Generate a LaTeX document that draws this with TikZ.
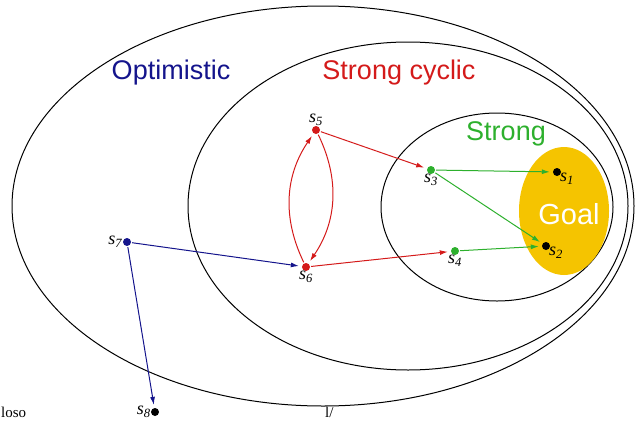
\documentclass[tikz,border=0pt]{standalone}
\usepackage{fontspec}
\setmainfont{Liberation Serif}
\setsansfont{Liberation Sans}
\usetikzlibrary{arrows.meta,positioning}
\definecolor{optblue}{HTML}{14148C}
\definecolor{cycred}{HTML}{D41A1A}
\definecolor{strgreen}{HTML}{2DB02D}
\definecolor{goalgold}{HTML}{F5C400}
\newcommand{\st}[1]{\textit{s}\textsubscript{\textit{#1}}}

\begin{document}
\begin{tikzpicture}[x=1pt, y=-1pt,
  state/.style={circle, fill=#1, inner sep=0pt, minimum size=8pt},
  stlab/.style={font=\fontsize{18}{19}\selectfont, inner sep=1pt},
  setlab/.style={font=\sffamily\fontsize{27}{29}\selectfont, inner sep=0pt},
  move/.style={-{Latex[length=8pt,width=5pt]}, line width=1pt,
    shorten >=3pt, shorten <=1pt},
  ring/.style={draw, line width=1pt},
  caption/.style={font=\fontsize{15}{17}\selectfont, anchor=base west,
    inner sep=0pt}]
\clip (0,0) rectangle (636,423);
% ---------------- nested solution sets ----------------
\draw[ring] (323,206) ellipse [x radius=311pt, y radius=200pt];
\draw[ring] (408,206) ellipse [x radius=220pt, y radius=164pt];
\draw[ring] (497,207) ellipse [x radius=116pt, y radius=94pt];
\fill[goalgold] (564,211) ellipse [x radius=45pt, y radius=64pt];
\node[setlab, optblue] (optimistic) at (171,73) {Optimistic};
\node[setlab, cycred] (strongcyclic) at (399,73) {Strong cyclic};
\node[setlab, strgreen] (strong) at (506,134) {Strong};
\node[setlab, white, font=\sffamily\fontsize{29}{31}\selectfont]
  (goal) at (569,214) {Goal};
% ---------------- states ----------------
\node[state=black] (s1) at (557,172) {};
\node[state=black] (s2) at (546,246) {};
\node[state=strgreen] (s3) at (431,170) {};
\node[state=strgreen] (s4) at (455,251) {};
\node[state=cycred] (s5) at (316,130) {};
\node[state=cycred] (s6) at (306,267) {};
\node[state=optblue] (s7) at (127,242) {};
\node[state=black] (s8) at (155,412) {};
\node[stlab, below right=-3pt and -1pt of s1] (ls1) {\st{1}};
\node[stlab, below right=-3pt and -1pt of s2] (ls2) {\st{2}};
\node[stlab, below=-1pt of s3] (ls3) {\st{3}};
\node[stlab, below=-1pt of s4] (ls4) {\st{4}};
\node[stlab, above=-1pt of s5] (ls5) {\st{5}};
\node[stlab, below=-1pt of s6] (ls6) {\st{6}};
\node[stlab, left=-1pt of s7] (ls7) {\st{7}};
\node[stlab, left=-1pt of s8] (ls8) {\st{8}};
% ---------------- transitions ----------------
\draw[move, optblue] (s7) -- (s6);
\draw[move, optblue] (s7) -- (s8);
\draw[move, cycred] (s5) -- (s3);
\draw[move, cycred] (s6) -- (s4);
\draw[move, cycred] (s5) to[bend left=30] (s6);
\draw[move, cycred] (s6) to[bend left=30] (s5);
\draw[move, strgreen] (s3) -- (s1);
\draw[move, strgreen] (s3) -- (s2);
\draw[move, strgreen] (s4) -- (s2);
% ---------------- cut-off caption ----------------
\node[caption] (capleft) at (1,417) {loso};
\node[caption] (capmid) at (325,417) {l/};
\end{tikzpicture}
\end{document}
